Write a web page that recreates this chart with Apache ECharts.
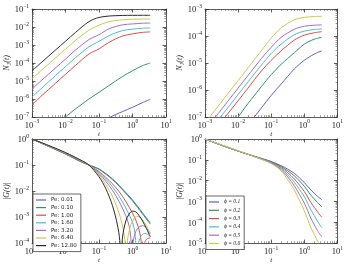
<!DOCTYPE html>
<html><head><meta charset="utf-8">
<script src="https://cdn.jsdelivr.net/npm/echarts@6/dist/echarts.min.js"></script>
<style>html,body{margin:0;padding:0;background:#fff}#c{width:346px;height:265px}</style>
</head><body><div id="c"></div>
<script>
// ---------- data (stored as log10 exponents) ----------
const colors = ['#5A62C4', '#2E9466', '#E04C4C', '#44C2C8', '#AE66C8', '#C8CA48', '#2A2A2A'];
const peNames = ['Pe: 0.01', 'Pe: 0.10', 'Pe: 1.00', 'Pe: 1.60', 'Pe: 3.20', 'Pe: 6.40', 'Pe: 12.80'];
const phiNames = ['ϕ = 0.1', 'ϕ = 0.2', 'ϕ = 0.3', 'ϕ = 0.4', 'ϕ = 0.5', 'ϕ = 0.6'];

// top panels: common time grid (log10 t)
const logT = [-3, -2.7, -2.3, -2, -1.7, -1.3, -1, -0.7, -0.3, 0, 0.3, 0.53];

// top-left N1(t), by Pe (log10 N1)
const tlPe001 = [-11, -10.5, -9.8, -9.3, -8.8, -8.1, -7.55, -7.05, -6.7, -6.46, -6.2, -6.02];
const tlPe010 = [-8.8, -8.25, -7.55, -7.0, -6.55, -6.0, -5.63, -5.25, -4.75, -4.43, -4.15, -4.0];
const tlPe100 = [-6.31, -5.8, -5.13, -4.63, -4.13, -3.5, -3.22, -2.85, -2.5, -2.38, -2.3, -2.27];
const tlPe160 = [-5.89, -5.38, -4.7, -4.2, -3.7, -3.1, -2.8, -2.48, -2.2, -2.12, -2.07, -2.05];
const tlPe320 = [-5.44, -4.94, -4.28, -3.78, -3.28, -2.7, -2.43, -2.1, -1.88, -1.83, -1.79, -1.78];
const tlPe640 = [-4.87, -4.38, -3.72, -3.23, -2.74, -2.18, -1.9, -1.7, -1.6, -1.57, -1.56, -1.56];
const tlPe1280 = [-4.43, -3.94, -3.28, -2.79, -2.3, -1.7, -1.47, -1.39, -1.36, -1.35, -1.35, -1.35];

// top-right N1(t), by phi (log10 N1)
const trPhi01 = [-9.4, -8.9, -8.27, -7.78, -7.3, -6.67, -6.2, -5.78, -5.22, -4.9, -4.67, -4.55];
const trPhi02 = [-8.6, -8.1, -7.47, -7.0, -6.5, -5.88, -5.43, -5.05, -4.62, -4.3, -4.12, -4.05];
const trPhi03 = [-7.95, -7.48, -6.86, -6.4, -5.93, -5.3, -4.9, -4.55, -4.15, -3.97, -3.88, -3.84];
const trPhi04 = [-7.73, -7.26, -6.64, -6.17, -5.7, -5.08, -4.65, -4.3, -3.95, -3.82, -3.76, -3.74];
const trPhi05 = [-7.5, -7.03, -6.4, -5.93, -5.46, -4.84, -4.42, -4.05, -3.75, -3.64, -3.6, -3.59];
const trPhi06 = [-7.22, -6.75, -6.12, -5.65, -5.18, -4.55, -4.08, -3.7, -3.4, -3.31, -3.28, -3.27];

// bottom-left |G(t)|, by Pe (log10 t, log10 |G|)
const blT001 = [-3, -2.5, -2, -1.5, -1.3, -1, -0.7, -0.5, -0.3, 0, 0.3, 0.53];
const blG001 = [0, -0.29, -0.58, -0.9, -1.0, -1.15, -1.42, -1.65, -1.92, -2.34, -2.84, -3.22];
const blT010 = [-3, -2.5, -2, -1.5, -1.3, -1, -0.7, -0.5, -0.3, 0, 0.3, 0.53];
const blG010 = [0, -0.28, -0.57, -0.89, -1.0, -1.17, -1.45, -1.68, -1.95, -2.38, -2.88, -3.27];
const blT100 = [-3, -2.5, -2, -1.5, -1.3, -1, -0.8, -0.6, -0.4, -0.2, 0, 0.1, 0.2, 0.26, 0.3, 0.34, 0.42, 0.53];
const blG100 = [0, -0.28, -0.56, -0.88, -1.0, -1.25, -1.47, -1.72, -2.02, -2.4, -2.85, -3.12, -3.5, -3.95, -5, -4.1, -3.85, -3.8];
const blT160 = [-3, -2.5, -2, -1.5, -1.3, -1, -0.8, -0.6, -0.4, -0.2, 0, 0.07, 0.11, 0.13, 0.17, 0.25, 0.35, 0.45, 0.53];
const blG160 = [0, -0.27, -0.55, -0.87, -1.0, -1.29, -1.54, -1.83, -2.2, -2.65, -3.2, -3.6, -4.2, -5, -4.05, -3.75, -3.63, -3.66, -3.75];
const blT320 = [-3, -2.5, -2, -1.5, -1.3, -1, -0.8, -0.6, -0.4, -0.2, -0.1, -0.05, -0.02, 0.02, 0.1, 0.2, 0.3, 0.4, 0.53];
const blG320 = [0, -0.27, -0.54, -0.86, -1.0, -1.33, -1.62, -1.97, -2.4, -2.95, -3.35, -3.8, -5, -3.95, -3.55, -3.38, -3.33, -3.4, -3.65];
const blT640 = [-3, -2.5, -2, -1.5, -1.3, -1, -0.8, -0.6, -0.4, -0.28, -0.22, -0.19, -0.15, -0.05, 0.05, 0.12, 0.2, 0.3, 0.4, 0.53];
const blG640 = [0, -0.26, -0.53, -0.85, -1.0, -1.38, -1.75, -2.2, -2.85, -3.45, -4.0, -5, -3.9, -3.3, -3.05, -2.97, -3.0, -3.1, -3.3, -3.6];
const blT1280 = [-3, -2.5, -2, -1.5, -1.3, -1, -0.8, -0.6, -0.45, -0.38, -0.34, -0.3, -0.2, -0.1, 0, 0.1, 0.2, 0.3, 0.4, 0.53];
const blG1280 = [0, -0.25, -0.52, -0.84, -1.0, -1.45, -1.9, -2.55, -3.3, -3.9, -5, -3.8, -3.15, -2.88, -2.77, -2.8, -2.95, -3.15, -3.4, -3.75];

// bottom-right |G(t)|, by phi (log10 |G|)
const brT = [-3, -2.5, -2, -1.5, -1, -0.7, -0.5, -0.3, 0, 0.2, 0.4, 0.53];
const brPhi01 = [0, -0.3, -0.58, -0.83, -1.08, -1.28, -1.45, -1.65, -2.09, -2.45, -2.75, -2.92];
const brPhi02 = [0, -0.3, -0.58, -0.84, -1.1, -1.32, -1.53, -1.77, -2.27, -2.7, -3.05, -3.26];
const brPhi03 = [0, -0.3, -0.58, -0.84, -1.12, -1.37, -1.62, -1.92, -2.52, -3.05, -3.5, -3.76];
const brPhi04 = [0, -0.3, -0.58, -0.85, -1.14, -1.42, -1.72, -2.08, -2.77, -3.4, -3.95, -4.26];
const brPhi05 = [0, -0.29, -0.57, -0.85, -1.16, -1.47, -1.82, -2.25, -3.08, -3.8, -4.4, -4.7];
const brPhi06 = [0, -0.28, -0.56, -0.85, -1.18, -1.53, -1.95, -2.45, -3.45, -4.25, -4.9, -5.3];

// axis ranges (exponents)
const xRange = [-3, 1];
const yRangeTL = [-7, -1];
const yRangeTR = [-7, -3];
const yRangeBL = [-4, 0];
const yRangeBR = [-5, 0];

// ---------- chart ----------
const pw = (e) => Math.pow(10, e);
const pairs = (ts, vs) => ts.map((t, i) => [pw(t), pw(vs[i])]);

const serif = 'Liberation Serif';
function expLabel(v) {
  const e = Math.round(Math.log10(v));
  return '{b|10}{e|' + (e < 0 ? '\u2212' + (-e) : String(e)) + '}';
}
const rich = {
  b: { fontSize: 8.5, fontFamily: serif, color: '#222', lineHeight: 11, verticalAlign: 'bottom' },
  e: { fontSize: 5.5, fontFamily: serif, color: '#222', lineHeight: 6, verticalAlign: 'top' }
};
const axisLine = { show: true, lineStyle: { color: '#333', width: 0.8 } };
const tick = { show: true, inside: true, length: 3.5, lineStyle: { color: '#333', width: 0.8 } };
const minor = { show: true, splitNumber: 9, length: 1.8, lineStyle: { color: '#555', width: 0.6 } };

const grids = [
  { left: 32, top: 9, width: 134, height: 108 },
  { left: 205, top: 9, width: 134, height: 108 },
  { left: 32, top: 139, width: 134, height: 110 },
  { left: 205, top: 139, width: 134, height: 110 }
];
const yRanges = [yRangeTL, yRangeTR, yRangeBL, yRangeBR];
const yNames = ['N\u2081(t)', 'N\u2081(t)', '|G(t)|', '|G(t)|'];

const xAxis = [], yAxis = [];
grids.forEach((g, i) => {
  xAxis.push({
    type: 'log', gridIndex: i, min: pw(xRange[0]), max: pw(xRange[1]), position: 'bottom',
    axisLine, axisTick: tick, minorTick: minor, splitLine: { show: false },
    axisLabel: { formatter: expLabel, rich, margin: 2 },
    name: 't', nameLocation: 'middle', nameGap: 12,
    nameTextStyle: { fontFamily: serif, fontStyle: 'italic', fontSize: 7, color: '#222' }
  });
  xAxis.push({
    type: 'log', gridIndex: i, min: pw(xRange[0]), max: pw(xRange[1]), position: 'top',
    axisLine, axisTick: tick, minorTick: minor, splitLine: { show: false }, axisLabel: { show: false }
  });
  yAxis.push({
    type: 'log', gridIndex: i, min: pw(yRanges[i][0]), max: pw(yRanges[i][1]), position: 'left',
    axisLine, axisTick: tick, minorTick: minor, splitLine: { show: false },
    axisLabel: { formatter: expLabel, rich, margin: 3 },
    name: yNames[i], nameLocation: 'middle', nameGap: 20,
    nameTextStyle: { fontFamily: serif, fontStyle: 'italic', fontSize: 8, color: '#222' }
  });
  yAxis.push({
    type: 'log', gridIndex: i, min: pw(yRanges[i][0]), max: pw(yRanges[i][1]), position: 'right',
    axisLine, axisTick: tick, minorTick: minor, splitLine: { show: false }, axisLabel: { show: false }
  });
});

const series = [];
function addLine(panel, name, color, data) {
  series.push({
    type: 'line', name, xAxisIndex: panel * 2, yAxisIndex: panel * 2,
    data, showSymbol: false, symbol: 'none', smooth: 0.3, clip: true,
    lineStyle: { width: 1, color }, itemStyle: { color }, silent: true, animation: false
  });
}
const tlVals = [tlPe001, tlPe010, tlPe100, tlPe160, tlPe320, tlPe640, tlPe1280];
tlVals.forEach((v, k) => addLine(0, peNames[k], colors[k], pairs(logT, v)));
const trVals = [trPhi01, trPhi02, trPhi03, trPhi04, trPhi05, trPhi06];
trVals.forEach((v, k) => addLine(1, phiNames[k], colors[k], pairs(logT, v)));
const blTs = [blT001, blT010, blT100, blT160, blT320, blT640, blT1280];
const blGs = [blG001, blG010, blG100, blG160, blG320, blG640, blG1280];
blGs.forEach((v, k) => addLine(2, peNames[k], colors[k], pairs(blTs[k], v)));
const brVals = [brPhi01, brPhi02, brPhi03, brPhi04, brPhi05, brPhi06];
brVals.forEach((v, k) => addLine(3, phiNames[k], colors[k], pairs(brT, v)));

const legendCommon = {
  orient: 'vertical', icon: 'rect', itemWidth: 10, itemHeight: 1.2, itemGap: 1.6,
  backgroundColor: '#fff', borderColor: '#444', borderWidth: 0.8, borderRadius: 0,
  padding: [3, 4, 3, 3], selectedMode: false
};
const option = {
  backgroundColor: '#fff',
  animation: false,
  grid: grids,
  xAxis, yAxis, series,
  legend: [
    Object.assign({}, legendCommon, {
      left: 33, top: 194, data: peNames,
      textStyle: { fontSize: 5.5, fontFamily: 'DejaVu Sans', color: '#222', padding: [0, 0, 0, 0] }
    }),
    Object.assign({}, legendCommon, {
      left: 206, top: 196, data: phiNames, itemGap: 2.3,
      textStyle: { fontSize: 5.5, fontFamily: serif, fontStyle: 'italic', color: '#222' }
    })
  ]
};
const chart = echarts.init(document.getElementById('c'), null, { renderer: 'canvas' });
chart.setOption(option);
</script></body></html>
